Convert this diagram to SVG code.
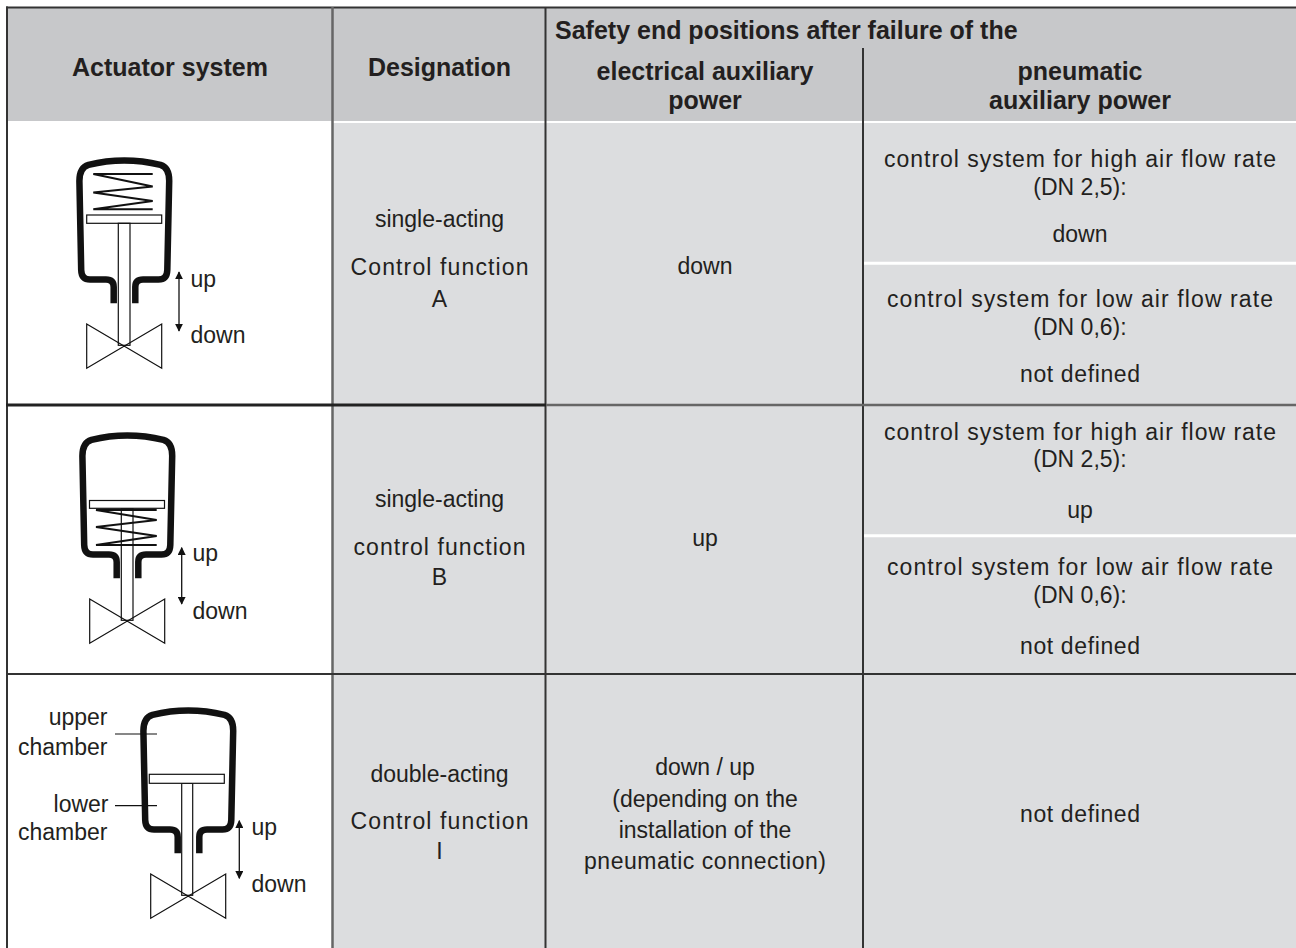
<svg xmlns="http://www.w3.org/2000/svg" width="1296" height="948" viewBox="0 0 1296 948">
<style>
  text { font-family: "Liberation Sans", Arial, sans-serif; fill: #231f20; }
  .h { font-size: 25px; font-weight: bold; }
  .b { font-size: 23px; }
  .c { text-anchor: middle; }
  .r { text-anchor: end; }
  .grid { stroke: #333; stroke-width: 2; fill: none; }
  .gridl { stroke: #666; stroke-width: 2.5; fill: none; }
  .sep { stroke: #fff; stroke-width: 3; }
  .housing { fill: none; stroke: #111; stroke-width: 6.5; stroke-linejoin: round; }
  .thin { fill: #fff; stroke: #111; stroke-width: 1.2; }
  .thinl { fill: none; stroke: #111; stroke-width: 1.2; }
  .spring { fill: none; stroke: #111; stroke-width: 2; stroke-linejoin: miter; }
  .arrow { stroke: #111; stroke-width: 1.3; marker-start: url(#ah); marker-end: url(#ah); }
</style>
<defs>
  <marker id="ah" viewBox="0 0 10 10" refX="9" refY="5" markerWidth="8" markerHeight="8" markerUnits="userSpaceOnUse" orient="auto-start-reverse">
    <path d="M0,0 L10,5 L0,10 Z" fill="#111"/>
  </marker>
  <path id="housing" class="housing" d="M113.7,303.3 V287 Q113.7,279.6 106,279.6 H90 Q81.5,279.6 81.2,270 L79.4,181 Q79.4,167.5 88.5,164.8 Q124,156 160.5,164.8 Q169.3,167.5 169.2,181 L167.3,270 Q167,279.6 158.5,279.6 H143 Q135.3,279.6 135.3,287 V303.3"/>
  <path id="valve" class="thinl" d="M86.7,324 L161.7,368.3 L161.7,324 L86.7,368.3 Z"/>
</defs>

<rect x="0" y="0" width="1296" height="948" fill="#fff"/>

<g id="table-grid">
  <rect x="7" y="7" width="1289" height="114" fill="#c7c8ca"/>
  <rect x="333" y="123" width="963" height="825" fill="#dcdddf"/>
  <line class="sep" x1="864" y1="263.3" x2="1296" y2="263.3"/>
  <line class="sep" x1="864" y1="535.7" x2="1296" y2="535.7"/>
  <line class="grid" x1="6" y1="7.5" x2="1296" y2="7.5"/>
  <line class="grid" x1="7" y1="6.5" x2="7" y2="948"/>
  <line class="gridl" x1="332.5" y1="7" x2="332.5" y2="948"/>
  <line class="grid" x1="545.5" y1="7" x2="545.5" y2="948"/>
  <line class="grid" x1="863" y1="48" x2="863" y2="948"/>
  <line class="gridl" x1="546" y1="405" x2="1296" y2="405"/>
  <line x1="6" y1="405" x2="546" y2="405" stroke="#222" stroke-width="2.8"/>
  <line class="grid" x1="6" y1="674" x2="1296" y2="674"/>
</g>

<g id="header">
  <text class="h c" x="170" y="76">Actuator system</text>
  <text class="h c" x="439.5" y="76">Designation</text>
  <text class="h" x="555" y="39">Safety end positions after failure of the</text>
  <text class="h c" x="705" y="80">electrical auxiliary</text>
  <text class="h c" x="705" y="109">power</text>
  <text class="h c" x="1080" y="80">pneumatic</text>
  <text class="h c" x="1080" y="109">auxiliary power</text>
</g>

<g id="actuator-a">
  <use href="#housing"/>
  <path class="spring" d="M152.7,174 H93.3 L152.7,186.5 L93.3,192.5 L152.7,201 L93.3,209.3 H152.7"/>
  <rect class="thin" x="86.7" y="215" width="75" height="8.3"/>
  <rect class="thinl" x="118.3" y="223.3" width="11.7" height="122"/>
  <use href="#valve"/>
  <line class="arrow" x1="179" y1="272" x2="179" y2="331"/>
  <text class="b" x="190.5" y="287">up</text>
  <text class="b" x="190.5" y="343">down</text>
</g>

<g id="actuator-b">
  <g transform="translate(3,275)">
    <use href="#housing"/>
    <rect class="thinl" x="118.3" y="233.3" width="11.7" height="112"/>
    <path class="spring" d="M153.7,235 H93 L153.7,245 L93,252 L153.7,261 L93,270 H153.7"/>
    <rect class="thin" x="86.5" y="225.5" width="75" height="7.8"/>
    <use href="#valve"/>
  </g>
  <line class="arrow" x1="181.7" y1="547.7" x2="181.7" y2="604"/>
  <text class="b" x="192.5" y="561">up</text>
  <text class="b" x="192.5" y="619">down</text>
</g>

<g id="actuator-i">
  <g transform="translate(64,550)">
    <use href="#housing"/>
    <rect class="thinl" x="117.7" y="233.3" width="11" height="112"/>
    <rect class="thin" x="85.3" y="224.3" width="75" height="9"/>
    <use href="#valve"/>
  </g>
  <line class="thinl" x1="115" y1="734" x2="157" y2="734"/>
  <line class="thinl" x1="115" y1="805.7" x2="157" y2="805.7"/>
  <text class="b r" x="107.5" y="725">upper</text>
  <text class="b r" x="107.5" y="755">chamber</text>
  <text class="b r" x="108.5" y="812">lower</text>
  <text class="b r" x="107.5" y="840">chamber</text>
  <line class="arrow" x1="239.3" y1="820.7" x2="239.3" y2="878.3"/>
  <text class="b" x="251.5" y="834.5">up</text>
  <text class="b" x="251.5" y="891.5">down</text>
</g>

<g id="row-a">
  <g id="designation-a">
    <text class="b c" x="439.5" y="227">single-acting</text>
    <text class="b c" x="439.5" y="275" textLength="178" lengthAdjust="spacing">Control function</text>
    <text class="b c" x="439.5" y="307">A</text>
  </g>
  <g id="electrical-a">
    <text class="b c" x="705" y="274">down</text>
  </g>
  <g id="pneumatic-a-high">
    <text class="b c" x="1080" y="167" textLength="392" lengthAdjust="spacing">control system for high air flow rate</text>
    <text class="b c" x="1080" y="195">(DN 2,5):</text>
    <text class="b c" x="1080" y="242">down</text>
  </g>
  <g id="pneumatic-a-low">
    <text class="b c" x="1080" y="307" textLength="386" lengthAdjust="spacing">control system for low air flow rate</text>
    <text class="b c" x="1080" y="335">(DN 0,6):</text>
    <text class="b c" x="1080" y="382" textLength="120" lengthAdjust="spacing">not defined</text>
  </g>
</g>

<g id="row-b">
  <g id="designation-b">
    <text class="b c" x="439.5" y="507">single-acting</text>
    <text class="b c" x="439.5" y="555" textLength="172" lengthAdjust="spacing">control function</text>
    <text class="b c" x="439.5" y="585">B</text>
  </g>
  <g id="electrical-b">
    <text class="b c" x="705" y="546">up</text>
  </g>
  <g id="pneumatic-b-high">
    <text class="b c" x="1080" y="440" textLength="392" lengthAdjust="spacing">control system for high air flow rate</text>
    <text class="b c" x="1080" y="467">(DN 2,5):</text>
    <text class="b c" x="1080" y="518">up</text>
  </g>
  <g id="pneumatic-b-low">
    <text class="b c" x="1080" y="575" textLength="386" lengthAdjust="spacing">control system for low air flow rate</text>
    <text class="b c" x="1080" y="603">(DN 0,6):</text>
    <text class="b c" x="1080" y="654" textLength="120" lengthAdjust="spacing">not defined</text>
  </g>
</g>

<g id="row-i">
  <g id="designation-i">
    <text class="b c" x="439.5" y="782">double-acting</text>
    <text class="b c" x="439.5" y="829" textLength="178" lengthAdjust="spacing">Control function</text>
    <text class="b c" x="439.5" y="859">I</text>
  </g>
  <g id="electrical-i">
    <text class="b c" x="705" y="775">down / up</text>
    <text class="b c" x="705" y="807">(depending on the</text>
    <text class="b c" x="705" y="838">installation of the</text>
    <text class="b c" x="705" y="869" textLength="242" lengthAdjust="spacing">pneumatic connection)</text>
  </g>
  <g id="pneumatic-i">
    <text class="b c" x="1080" y="822" textLength="120" lengthAdjust="spacing">not defined</text>
  </g>
</g>
</svg>
